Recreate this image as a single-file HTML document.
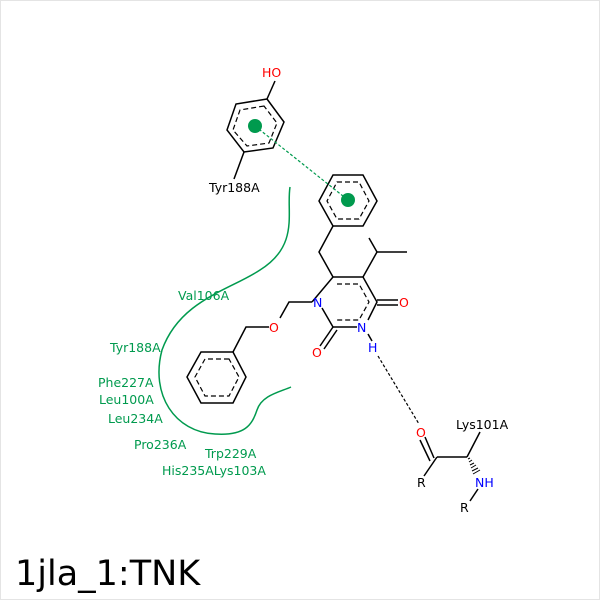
<!DOCTYPE html>
<html><head><style>
body{margin:0;background:#fff}
svg{display:block}
text{font-family:"DejaVu Sans","Liberation Sans",sans-serif}
</style></head><body>
<svg width="600" height="600" viewBox="0 0 600 600" xmlns="http://www.w3.org/2000/svg">
<rect x="0.5" y="0.5" width="599" height="599" fill="#fff" stroke="#e4e4e4"/>
<g stroke="#000" stroke-width="1.5" fill="none">
<polygon points="267,99 236,104 227,130 244,152 273,148 284,122"/>
<polygon points="264,106 240,110 233,130 247,146 269,143 277,123" stroke-dasharray="5,3" stroke-width="1.2"/>
<line x1="267" y1="99" x2="275" y2="81"/>
<line x1="244" y1="152" x2="234" y2="179"/>
<polygon points="333,175 363,175 377,201 363,226 333,226 319,201"/>
<polygon points="337,182 359,182 369,201 359,219 337,219 327,201" stroke-dasharray="5,3" stroke-width="1.2"/>
<polyline points="333,226 319,252 333,277"/>
<polyline points="312,302 333,277 363,277 377,302 368,320"/>
<polyline points="357,327 333,327 322,308"/>
<polyline points="337,284 359,284 369,302 359,320 337,320" stroke-dasharray="5,3" stroke-width="1.2"/>
<polyline points="363,277 377,252 407,252"/>
<line x1="377" y1="252" x2="369" y2="238"/>
<line x1="377" y1="300" x2="398" y2="300"/>
<line x1="377" y1="305" x2="398" y2="305"/>
<line x1="333" y1="327" x2="320" y2="346"/>
<line x1="337" y1="330" x2="324" y2="349"/>
<line x1="368" y1="334" x2="372" y2="341"/>
<polyline points="312,302 289,302 280,318"/>
<polyline points="269,327 246,327 233,352"/>
<polygon points="233,352 201,352 187,377 201,403 233,403 246,377"/>
<polygon points="229,359 205,359 195,377 205,396 229,396 239,377" stroke-dasharray="5,3" stroke-width="1.2"/>
<line x1="425" y1="437" x2="434" y2="458"/>
<line x1="420" y1="440" x2="430" y2="461"/>
<line x1="437" y1="457" x2="467" y2="457"/>
<line x1="437" y1="457" x2="424" y2="476"/>
<line x1="467" y1="457" x2="480" y2="432"/>
<line x1="478" y1="489" x2="470" y2="501"/>
</g>
<g stroke="#000" stroke-width="1">
<line x1="468" y1="459" x2="470" y2="458"/><line x1="469" y1="462" x2="472" y2="460"/><line x1="470" y1="465" x2="474" y2="463"/><line x1="471" y1="468" x2="476" y2="465"/><line x1="472" y1="471" x2="478" y2="468"/><line x1="473" y1="474" x2="480" y2="470"/>
</g>
<line x1="378" y1="356" x2="419" y2="424" stroke="#000" stroke-width="1.2" stroke-dasharray="3,2"/>
<line x1="255" y1="126" x2="348" y2="200" stroke="#009a4e" stroke-width="1.2" stroke-dasharray="3,2"/>
<circle cx="255" cy="126" r="7" fill="#009a4e"/>
<circle cx="348" cy="200" r="7" fill="#009a4e"/>
<path d="M290,187 C286,212 300,245 260,270 C230,290 180,300 162,350 C150,395 175,432 215,434 C245,436 252,425 257,410 C262,395 280,392 291,387" fill="none" stroke="#009a4e" stroke-width="1.5"/>
<g font-size="12.5">
<text x="262" y="77" fill="#f00">HO</text>
<text x="209" y="192" fill="#000">Tyr188A</text>
<text x="313" y="307" fill="#00f">N</text>
<text x="357" y="332" fill="#00f">N</text>
<text x="368" y="352" fill="#00f">H</text>
<text x="399" y="307" fill="#f00">O</text>
<text x="312" y="357" fill="#f00">O</text>
<text x="269" y="332" fill="#f00">O</text>
<text x="416" y="437" fill="#f00">O</text>
<text x="456" y="429" fill="#000">Lys101A</text>
<text x="417" y="487" fill="#000">R</text>
<text x="475" y="487" fill="#00f">NH</text>
<text x="460" y="512" fill="#000">R</text>
<g fill="#009a4e">
<text x="178" y="300">Val106A</text>
<text x="110" y="352">Tyr188A</text>
<text x="98" y="387">Phe227A</text>
<text x="99" y="404">Leu100A</text>
<text x="108" y="423">Leu234A</text>
<text x="134" y="449">Pro236A</text>
<text x="205" y="458">Trp229A</text>
<text x="162" y="475">His235ALys103A</text>
</g>
</g>
<text x="15" y="585" font-size="35" fill="#000">1jla_1:TNK</text>
</svg>
</body></html>
